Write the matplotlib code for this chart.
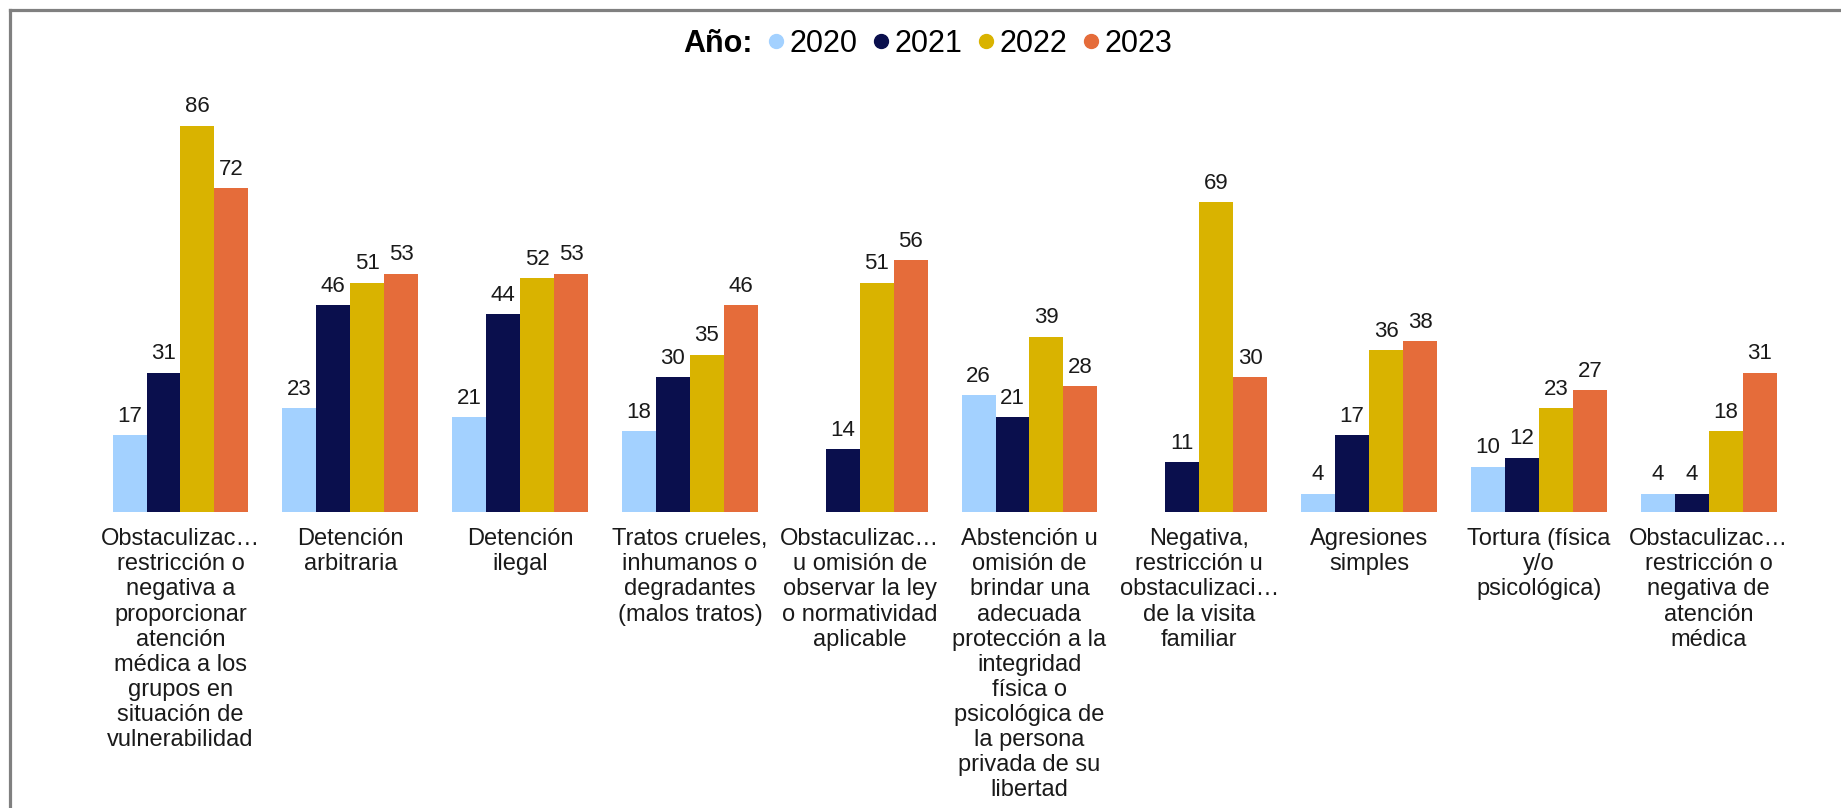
import numpy as np
import matplotlib
matplotlib.use('Agg')
import matplotlib.pyplot as plt
from matplotlib.lines import Line2D

plt.rcParams['font.family'] = ['Liberation Sans', 'DejaVu Sans']

# ── data ─────────────────────────────────────────────────────────────────────
CATEGORIES = [
    "Obstaculizac…\nrestricción o\nnegativa a\nproporcionar\natención\nmédica a los\ngrupos en\nsituación de\nvulnerabilidad",
    "Detención\narbitraria",
    "Detención\nilegal",
    "Tratos crueles,\ninhumanos o\ndegradantes\n(malos tratos)",
    "Obstaculizac…\nu omisión de\nobservar la ley\no normatividad\naplicable",
    "Abstención u\nomisión de\nbrindar una\nadecuada\nprotección a la\nintegridad\nfísica o\npsicológica de\nla persona\nprivada de su\nlibertad",
    "Negativa,\nrestricción u\nobstaculizaci…\nde la visita\nfamiliar",
    "Agresiones\nsimples",
    "Tortura (física\ny/o\npsicológica)",
    "Obstaculizac…\nrestricción o\nnegativa de\natención\nmédica",
]
YEARS = ["2020", "2021", "2022", "2023"]
V2020 = [17, 23, 21, 18, np.nan, 26, np.nan, 4, 10, 4]
V2021 = [31, 46, 44, 30, 14, 21, 11, 17, 12, 4]
V2022 = [86, 51, 52, 35, 51, 39, 69, 36, 23, 18]
V2023 = [72, 53, 53, 46, 56, 28, 30, 38, 27, 31]
SERIES = [V2020, V2021, V2022, V2023]
COLORS = ["#A3D1FF", "#0A0F4D", "#D9B300", "#E56C3A"]

# ── canvas ───────────────────────────────────────────────────────────────────
W, H, DPI = 1841, 808, 100
fig = plt.figure(figsize=(W / DPI, H / DPI), dpi=DPI)

# axes placed so that category centres fall where the reference has them
STEP_PX = 169.8
X0_PX = 180.5
BASE_PX = 511.7
PX_PER_UNIT = 4.49
YMAX = 100
ax = fig.add_axes([0, (H - BASE_PX) / H, 1, YMAX * PX_PER_UNIT / H])
ax.set_xlim(-X0_PX / STEP_PX, (W - X0_PX) / STEP_PX)
ax.set_ylim(0, YMAX)

x = np.arange(len(CATEGORIES))
BW = 0.2
for k, (vals, col, yr) in enumerate(zip(SERIES, COLORS, YEARS)):
    bars = ax.bar(x + (k - 1.5) * BW, vals, width=BW, color=col, label=yr)
    labels = ["" if np.isnan(v) else f"{int(v)}" for v in vals]
    ax.bar_label(bars, labels=labels, padding=6, fontsize=16, color="#1a1a1a")

ax.set_xticks(x)
ax.set_xticklabels(CATEGORIES, fontsize=17, linespacing=1.18,
                   color="#1a1a1a", va='top')
ax.tick_params(axis='x', length=0, pad=12)
ax.set_yticks([])
for s in ax.spines.values():
    s.set_visible(False)

# ── legend ───────────────────────────────────────────────────────────────────
handles = [Line2D([], [], linestyle='none', marker='')]
handles += [Line2D([], [], linestyle='none', marker='o', markersize=10,
                   markerfacecolor=c, markeredgecolor=c) for c in COLORS]
leg = fig.legend(handles, ["Año:"] + YEARS, ncol=5, frameon=False,
                 loc='center', bbox_to_anchor=(917 / W, 1 - 44 / H),
                 fontsize=22, handlelength=0.5, handletextpad=0.19,
                 columnspacing=0.52, borderpad=0)
leg.get_texts()[0].set_fontweight('bold')

# ── frame (left and top edges only visible) ──────────────────────────────────
fig.add_artist(Line2D([10 / W, 10 / W], [0, 1 - 10 / H], color="#808080",
                      lw=2.3, transform=fig.transFigure))
fig.add_artist(Line2D([10 / W, 1], [1 - 10 / H, 1 - 10 / H], color="#808080",
                      lw=2.3, transform=fig.transFigure))

fig.savefig("out.png", dpi=DPI, facecolor='white')
